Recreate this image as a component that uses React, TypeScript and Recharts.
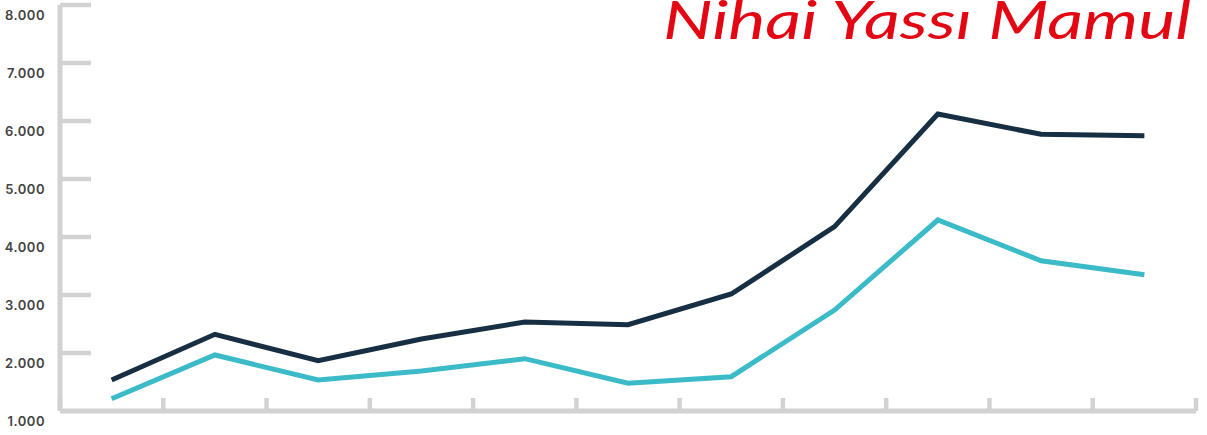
import React from 'react';
import { LineChart, Line, XAxis, YAxis } from 'recharts';

const periods = ['1', '2', '3', '4', '5', '6', '7', '8', '9', '10', '11'];
const seriesDark = [1534, 2322, 1867, 2241, 2534, 2488, 3017, 4178, 6121, 5771, 5747];
const seriesCyan = [1212, 1966, 1534, 1690, 1902, 1478, 1591, 2741, 4293, 3591, 3350];
const yTicks = [1000, 2000, 3000, 4000, 5000, 6000, 7000, 8000];
const title = 'Nihai Yassı Mamul';

const data = periods.map((p, i) => ({ idx: i, period: p, dark: seriesDark[i], cyan: seriesCyan[i] }));
const xTicks = [-0.5, ...periods.map((_, i) => i + 0.5)];

const AXIS = '#d2d2d2';

const fmt = (v: number) => {
  const s = String(Math.round(v));
  return s.replace(/\B(?=(\d{3})+(?!\d))/g, '.');
};

const YTick = (props: any) => {
  const { y, payload } = props;
  const ax = 60;
  return (
    <g>
      {payload.value !== 1000 && (
        <line x1={ax} y1={y} x2={ax + 31} y2={y} stroke={AXIS} strokeWidth={4.5} />
      )}
      <text
        x={45}
        y={y + 14.5}
        textAnchor="end"
        fontFamily="Inter"
        fontWeight={600}
        fontSize={13}
        letterSpacing={0.5}
        fill="#434343"
      >
        {fmt(payload.value)}
      </text>
    </g>
  );
};

const XTick = (props: any) => {
  const { x } = props;
  const ay = 411;
  return <line x1={x} y1={ay} x2={x} y2={ay - 13} stroke={AXIS} strokeWidth={4.5} />;
};

export default function App() {
  return (
    <div style={{ position: 'absolute', left: 0, top: 0, width: 1207, height: 435, background: '#fff' }}>
      <LineChart
        width={1207}
        height={435}
        data={data}
        margin={{ top: 5, right: 11, bottom: 0, left: 0 }}
      >
        <XAxis
          type="number"
          dataKey="idx"
          domain={[-0.5, periods.length - 0.5]}
          ticks={xTicks}
          interval={0}
          height={24}
          tick={<XTick />}
          tickLine={false}
          axisLine={{ stroke: AXIS, strokeWidth: 5 }}
        />
        <YAxis
          type="number"
          domain={[1000, 8000]}
          ticks={yTicks}
          interval={0}
          width={60}
          tick={<YTick />}
          tickLine={false}
          axisLine={{ stroke: AXIS, strokeWidth: 5 }}
        />
        <Line
          type="linear"
          dataKey="dark"
          stroke="#172f42"
          strokeWidth={5}
          dot={false}
          activeDot={false}
          isAnimationActive={false}
        />
        <Line
          type="linear"
          dataKey="cyan"
          stroke="#3bbac7"
          strokeWidth={5}
          dot={false}
          activeDot={false}
          isAnimationActive={false}
        />
      </LineChart>
      <svg
        width={1207}
        height={435}
        style={{ position: 'absolute', left: 0, top: 0, pointerEvents: 'none' }}
      >
        <text
          x={663}
          y={38.5}
          textLength={528}
          lengthAdjust="spacingAndGlyphs"
          fontFamily="Lato"
          fontStyle="italic"
          fontSize={53}
          fill="#e30613"
        >
          {title}
        </text>
      </svg>
    </div>
  );
}
